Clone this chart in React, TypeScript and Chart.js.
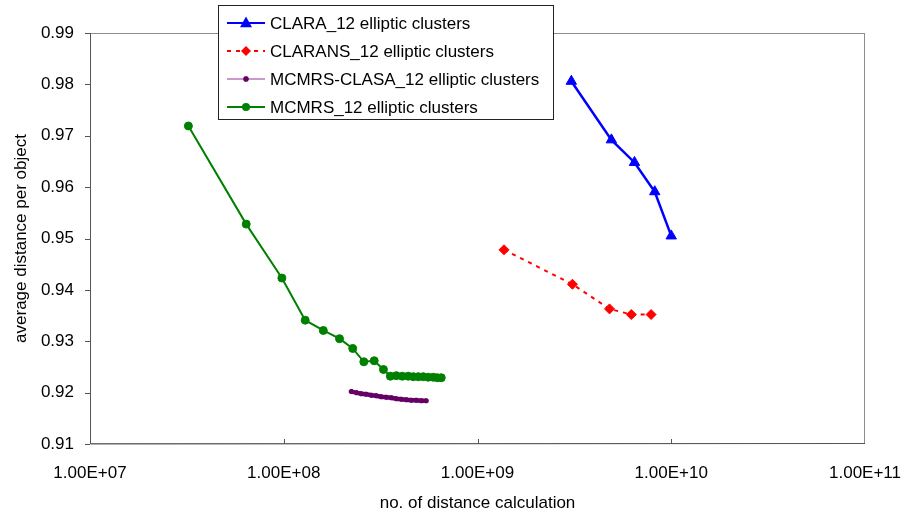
import React, { useEffect, useRef } from "react";
import { Chart, registerables } from "chart.js";

Chart.register(...registerables);

// Number of distance calculations (x) and average distance per object (y)
const claraX = [3.05e9, 4.91e9, 6.46e9, 8.22e9, 1.0e10];
const claraY = [0.9806, 0.9692, 0.9648, 0.9591, 0.9505];

const claransX = [1.37e9, 3.09e9, 4.8e9, 6.22e9, 7.87e9];
const claransY = [0.9478, 0.9411, 0.9363, 0.9352, 0.9352];

const clasaX = [
  2.23e8, 2.37e8, 2.51e8, 2.66e8, 2.83e8, 3.0e8, 3.18e8, 3.38e8,
  3.59e8, 3.81e8, 4.04e8, 4.29e8, 4.55e8, 4.83e8, 5.13e8, 5.44e8,
];
const clasaY = [
  0.9202, 0.92, 0.9198, 0.9197, 0.9195, 0.9194, 0.9192, 0.9191,
  0.919, 0.9188, 0.9187, 0.9186, 0.9185, 0.9185, 0.9184, 0.9184,
];

const mcmrsX = [
  3.22e7, 6.4e7, 9.78e7, 1.29e8, 1.6e8, 1.94e8, 2.27e8, 2.59e8, 2.93e8,
  3.27e8, 3.55e8, 3.81e8, 4.09e8, 4.39e8, 4.66e8, 4.95e8, 5.25e8, 5.57e8,
  5.91e8, 6.2e8, 6.5e8,
];
const mcmrsY = [
  0.9719, 0.9528, 0.9423, 0.9341, 0.9321, 0.9305, 0.9286, 0.926, 0.9262,
  0.9245, 0.9232, 0.9233, 0.9232, 0.9232, 0.9231, 0.9231, 0.9231, 0.923,
  0.923, 0.9229, 0.9229,
];

const xTicks = [1e7, 1e8, 1e9, 1e10, 1e11];
const yTicks = [0.91, 0.92, 0.93, 0.94, 0.95, 0.96, 0.97, 0.98, 0.99];

const seriesLabels = [
  "CLARA_12 elliptic clusters",
  "CLARANS_12 elliptic clusters",
  "MCMRS-CLASA_12 elliptic clusters",
  "MCMRS_12 elliptic clusters",
];

const FONT = "'Liberation Sans', Arial, sans-serif";

const pts = (xs: number[], ys: number[]) => xs.map((x, i) => ({ x, y: ys[i] }));

const sci = (v: number) => {
  const e = Math.round(Math.log10(v));
  return "1.00E" + (e >= 0 ? "+" : "-") + String(Math.abs(e)).padStart(2, "0");
};

function drawMarker(ctx: CanvasRenderingContext2D, style: string, r: number, x: number, y: number) {
  ctx.beginPath();
  if (style === "triangle") {
    ctx.moveTo(x, y - r * 1.1);
    ctx.lineTo(x + r, y + r * 0.7);
    ctx.lineTo(x - r, y + r * 0.7);
    ctx.closePath();
    ctx.fill();
  } else if (style === "rectRot") {
    ctx.moveTo(x, y - r);
    ctx.lineTo(x + r, y);
    ctx.lineTo(x, y + r);
    ctx.lineTo(x - r, y);
    ctx.closePath();
    ctx.fill();
  } else if (style === "star") {
    for (let k = 0; k < 4; k++) {
      const ang = (k * Math.PI) / 4;
      ctx.moveTo(x + Math.cos(ang) * r, y + Math.sin(ang) * r);
      ctx.lineTo(x - Math.cos(ang) * r, y - Math.sin(ang) * r);
    }
    ctx.stroke();
  } else {
    ctx.arc(x, y, r, 0, Math.PI * 2);
    ctx.fill();
  }
}

// Plot frame and Excel-style tick marks
const framePlugin = {
  id: "frame",
  beforeDatasetsDraw(chart: any) {
    const { ctx, chartArea: a, scales } = chart;
    ctx.save();
    ctx.lineWidth = 1;
    ctx.strokeStyle = "#8c8c8c";
    ctx.strokeRect(Math.round(a.left) + 0.5, Math.round(a.top) + 0.5, Math.round(a.width) - 1, Math.round(a.height) - 1);
    ctx.strokeStyle = "#555";
    ctx.beginPath();
    ctx.moveTo(Math.round(a.left) + 0.5, a.top);
    ctx.lineTo(Math.round(a.left) + 0.5, a.bottom);
    ctx.lineTo(a.right, Math.round(a.bottom) - 0.5);
    for (const v of yTicks) {
      const py = Math.round(scales.y.getPixelForValue(v)) + 0.5;
      ctx.moveTo(a.left - 5, py);
      ctx.lineTo(a.left, py);
    }
    for (const v of xTicks.slice(1, -1)) {
      const px = Math.round(scales.x.getPixelForValue(v)) + 0.5;
      ctx.moveTo(px, a.bottom);
      ctx.lineTo(px, a.bottom - 5);
    }
    ctx.stroke();
    ctx.restore();
  },
};

// Boxed legend inside the plot, top-left of centre
const legendPlugin = {
  id: "boxLegend",
  afterDraw(chart: any) {
    const { ctx } = chart;
    const bx = 218.5, by = 5.5, bw = 335, bh = 114;
    ctx.save();
    ctx.fillStyle = "#ffffff";
    ctx.fillRect(bx, by, bw, bh);
    ctx.strokeStyle = "#222";
    ctx.lineWidth = 1;
    ctx.strokeRect(bx, by, bw, bh);
    chart.data.datasets.forEach((ds: any, i: number) => {
      const cy = 23 + i * 28;
      ctx.save();
      ctx.strokeStyle = ds.legendColor || ds.borderColor;
      ctx.lineWidth = ds.legendWidth || 2;
      ctx.setLineDash(ds.borderDash || []);
      ctx.beginPath();
      ctx.moveTo(227, cy);
      ctx.lineTo(265, cy);
      ctx.stroke();
      ctx.setLineDash([]);
      ctx.fillStyle = ds.pointBackgroundColor;
      ctx.strokeStyle = ds.pointBorderColor;
      ctx.lineWidth = ds.legendPointWidth ?? ds.pointBorderWidth;
      drawMarker(ctx, ds.pointStyle, ds.legendRadius ?? ds.pointRadius, 246, cy);
      ctx.restore();
      ctx.fillStyle = "#000";
      ctx.font = `17px ${FONT}`;
      ctx.textBaseline = "middle";
      ctx.textAlign = "left";
      ctx.fillText(ds.label, 270, cy + 1);
    });
    ctx.restore();
  },
};

export default function App() {
  const ref = useRef<HTMLCanvasElement | null>(null);

  useEffect(() => {
    if (!ref.current) return;
    const chart = new Chart(ref.current, {
      type: "line",
      data: {
        datasets: [
          {
            label: seriesLabels[0],
            data: pts(claraX, claraY),
            borderColor: "#0000ff",
            borderWidth: 2.5,
            pointStyle: "triangle",
            pointRadius: 6,
            pointBackgroundColor: "#0000ff",
            pointBorderColor: "#0000ff",
            pointBorderWidth: 1,
          },
          {
            label: seriesLabels[1],
            data: pts(claransX, claransY),
            borderColor: "#ff0000",
            borderWidth: 2,
            borderDash: [4, 5],
            pointStyle: "rectRot",
            pointRadius: 5,
            pointBackgroundColor: "#ff0000",
            pointBorderColor: "#ff0000",
            pointBorderWidth: 1,
          },
          {
            label: seriesLabels[2],
            data: pts(clasaX, clasaY),
            borderColor: "#660066",
            borderWidth: 4.5,
            pointStyle: "star",
            pointRadius: 2.5,
            pointBackgroundColor: "#660066",
            pointBorderColor: "#660066",
            pointBorderWidth: 2,
            legendColor: "#993399",
            legendWidth: 1,
            legendRadius: 3,
            legendPointWidth: 1.5,
          } as any,
          {
            label: seriesLabels[3],
            data: pts(mcmrsX, mcmrsY),
            borderColor: "#008000",
            borderWidth: 2,
            pointStyle: "circle",
            pointRadius: 4,
            pointBackgroundColor: "#008000",
            pointBorderColor: "#008000",
            pointBorderWidth: 1,
          },
        ],
      },
      options: {
        responsive: false,
        animation: false,
        layout: { padding: { left: 0, top: 33, right: 39, bottom: 0 } },
        plugins: {
          legend: { display: false },
          tooltip: { enabled: false },
          title: { display: false },
        },
        scales: {
          x: {
            type: "logarithmic",
            min: 1e7,
            max: 1e11,
            grid: { display: false, drawTicks: false, tickLength: 0 },
            border: { display: false },
            afterBuildTicks: (s: any) => {
              s.ticks = xTicks.map((v) => ({ value: v }));
            },
            afterFit: (s: any) => {
              s.height = 68;
              s.paddingLeft = 0;
              s.paddingRight = 0;
            },
            ticks: {
              autoSkip: false,
              maxRotation: 0,
              padding: 19,
              color: "#000",
              font: { family: FONT, size: 17 },
              callback: (v: any) => sci(Number(v)),
            },
            title: {
              display: true,
              text: "no. of distance calculation",
              color: "#000",
              font: { family: FONT, size: 17 },
              padding: { top: 0, bottom: -2 },
            },
          },
          y: {
            type: "linear",
            min: 0.91,
            max: 0.99,
            grid: { display: false, drawTicks: false, tickLength: 0 },
            border: { display: false },
            afterBuildTicks: (s: any) => {
              s.ticks = yTicks.map((v) => ({ value: v }));
            },
            afterFit: (s: any) => {
              s.width = 90;
              s.paddingTop = 0;
              s.paddingBottom = 0;
            },
            ticks: {
              autoSkip: false,
              padding: 16,
              color: "#000",
              font: { family: FONT, size: 17 },
              callback: (v: any) => Number(v).toFixed(2),
            },
            title: {
              display: true,
              text: "average distance per object",
              color: "#000",
              font: { family: FONT, size: 17 },
              padding: { top: 11, bottom: 0 },
            },
          },
        },
      },
      plugins: [framePlugin, legendPlugin],
    } as any);
    return () => chart.destroy();
  }, []);

  return (
    <div style={{ position: "absolute", left: 0, top: 0, width: 904, height: 512, background: "#fff" }}>
      <canvas ref={ref} width={904} height={512} />
    </div>
  );
}
